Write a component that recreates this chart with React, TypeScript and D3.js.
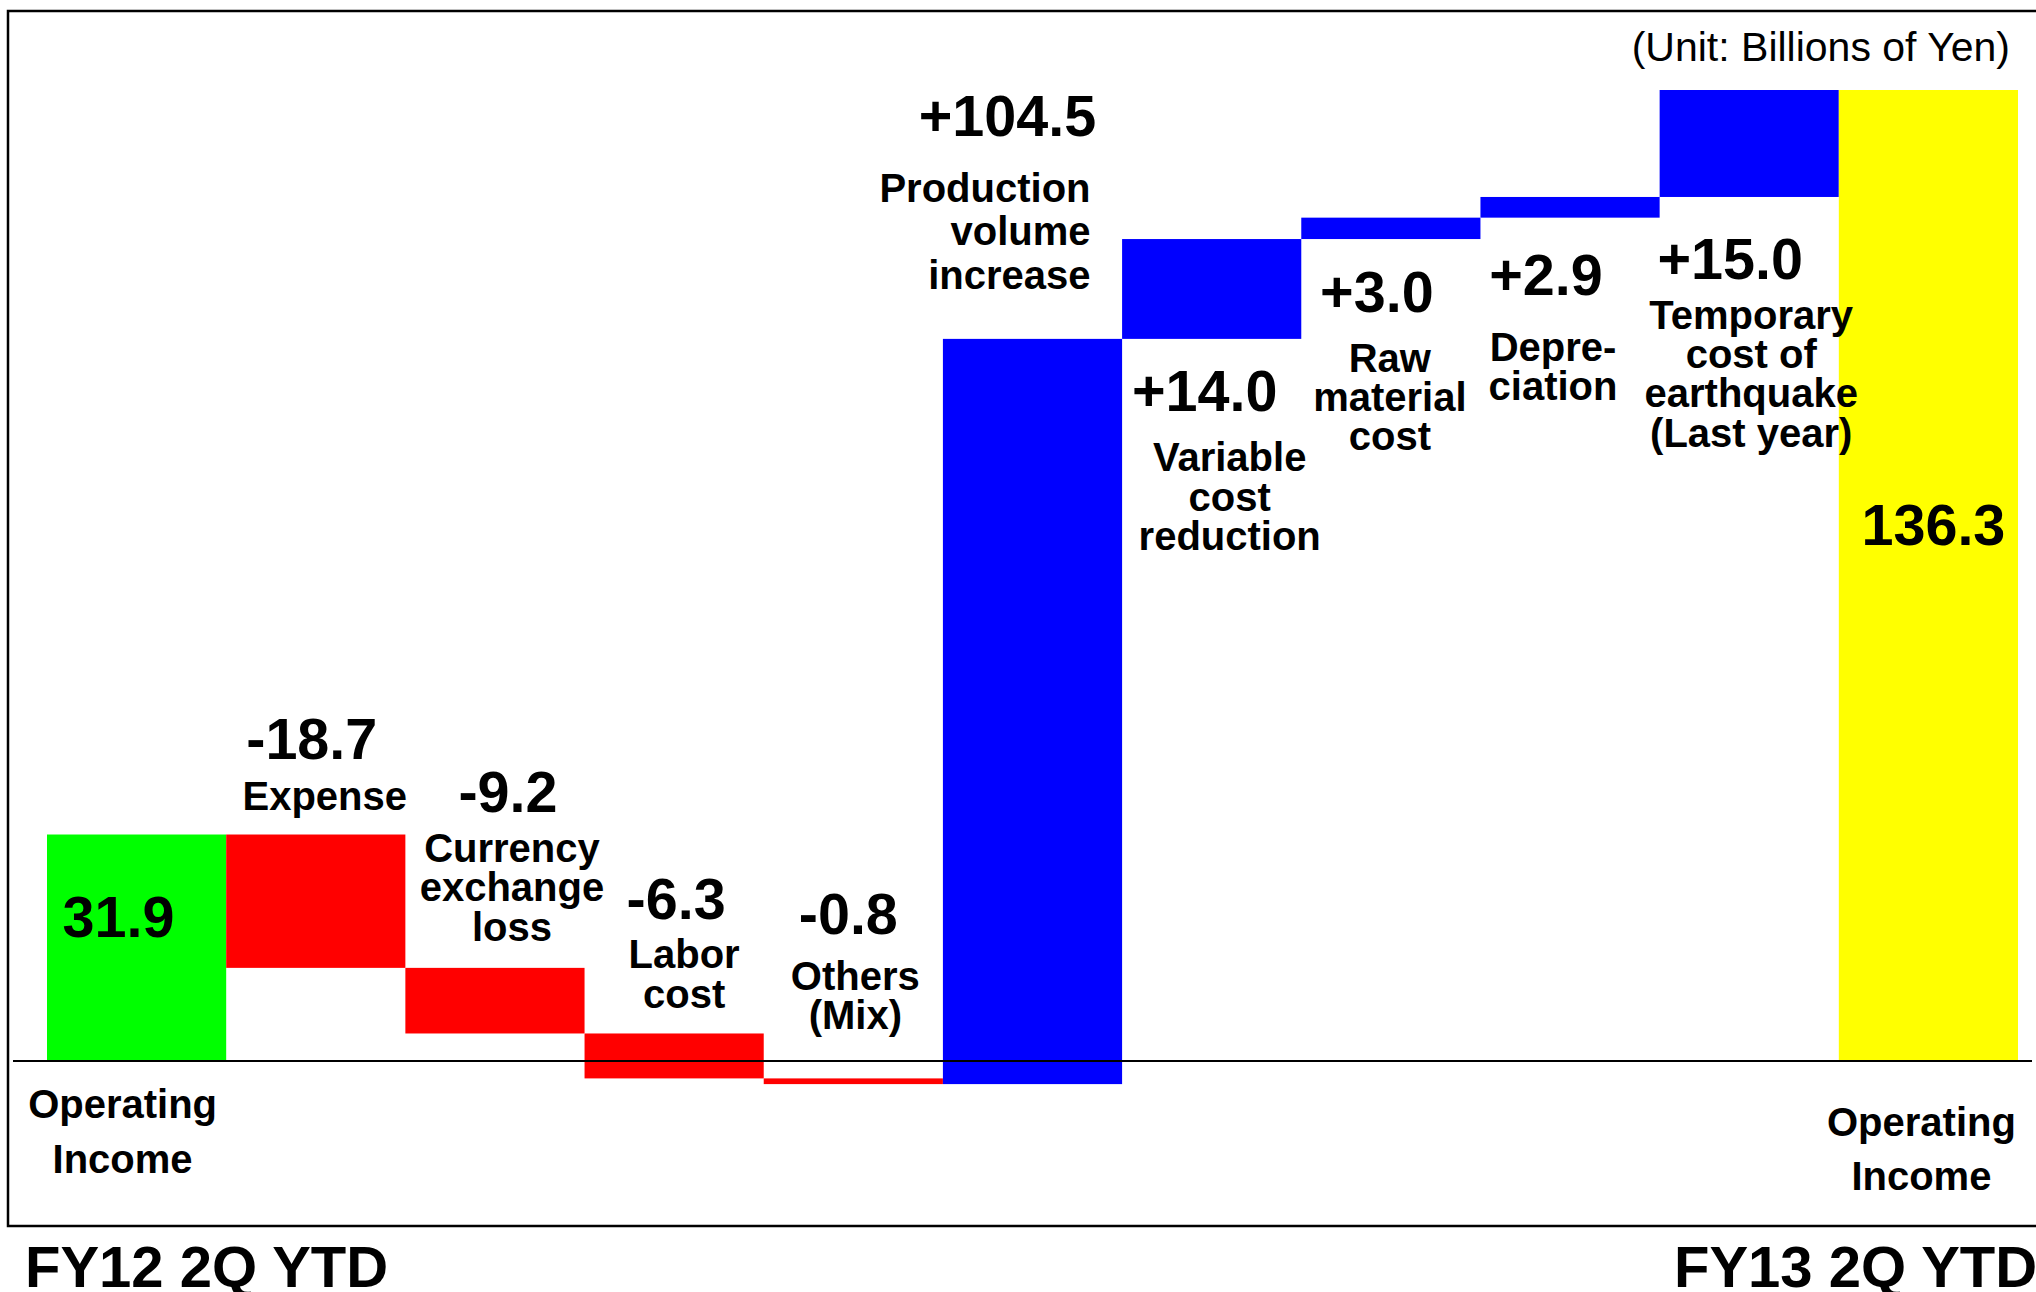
import React from "react";
import * as d3 from "d3";

// Operating income bridge, FY12 2Q YTD -> FY13 2Q YTD (billions of yen)
const categories = [
  "FY12 Operating Income",
  "Expense",
  "Currency exchange loss",
  "Labor cost",
  "Others (Mix)",
  "Production volume increase",
  "Variable cost reduction",
  "Raw material cost",
  "Depreciation",
  "Temporary cost of earthquake (Last year)",
  "FY13 Operating Income",
];
const deltas = [31.9, -18.7, -9.2, -6.3, -0.8, 104.5, 14.0, 3.0, 2.9, 15.0, 136.3];
const kinds = ["total", "neg", "neg", "neg", "neg", "pos", "pos", "pos", "pos", "pos", "total"];
const valueLabels = ["31.9", "-18.7", "-9.2", "-6.3", "-0.8", "+104.5", "+14.0", "+3.0", "+2.9", "+15.0", "136.3"];
const categoryLines = [
  ["Operating", "Income"],
  ["Expense"],
  ["Currency", "exchange", "loss"],
  ["Labor", "cost"],
  ["Others", "(Mix)"],
  ["Production", "volume", "increase"],
  ["Variable", "cost", "reduction"],
  ["Raw", "material", "cost"],
  ["Depre-", "ciation"],
  ["Temporary", "cost of", "earthquake", "(Last year)"],
  ["Operating", "Income"],
];
const periodLabels = ["FY12 2Q YTD", "FY13 2Q YTD"];
const unitLabel = "(Unit: Billions of Yen)";

// label placement relative to each bar (ref = which edge of the bar or the zero line)
const labelLayout = [
  { v: { ref: "top", dx: -74, dy: 102, anchor: "start" }, c: { ref: "zero", dx: -14, dys: [56, 111], anchor: "middle" } },
  { v: { ref: "top", dx: -4, dy: -76, anchor: "middle" }, c: { ref: "top", dx: 9, dys: [-25], anchor: "middle" } },
  { v: { ref: "top", dx: 13, dy: -156, anchor: "middle" }, c: { ref: "top", dx: 17, dys: [-106, -67, -27], anchor: "middle" } },
  { v: { ref: "top", dx: 2, dy: -114, anchor: "middle" }, c: { ref: "top", dx: 10, dys: [-65, -25], anchor: "middle" } },
  { v: { ref: "top", dx: -5, dy: -144, anchor: "middle" }, c: { ref: "top", dx: 2, dys: [-88, -49], anchor: "middle" } },
  { v: { ref: "top", dx: -25, dy: -203, anchor: "middle" }, c: { ref: "top", dx: 58, dys: [-137, -94, -50], anchor: "end" } },
  { v: { ref: "bottom", dx: -7, dy: 72, anchor: "middle" }, c: { ref: "bottom", dx: 18, dys: [132, 172, 211], anchor: "middle" } },
  { v: { ref: "bottom", dx: -14, dy: 73, anchor: "middle" }, c: { ref: "bottom", dx: -1, dys: [133, 172, 211], anchor: "middle" } },
  { v: { ref: "bottom", dx: -24, dy: 77, anchor: "middle" }, c: { ref: "bottom", dx: -17, dys: [143, 182], anchor: "middle" } },
  { v: { ref: "bottom", dx: -19, dy: 82, anchor: "middle" }, c: { ref: "bottom", dx: 2, dys: [132, 171, 210, 250], anchor: "middle" } },
  { v: { ref: "top", dx: 5, dy: 455, anchor: "middle" }, c: { ref: "zero", dx: -7, dys: [74, 128], anchor: "middle" } },
];

const W = 2036;
const H = 1292;
const FONT = "'Liberation Sans', Arial, Helvetica, sans-serif";
const colors: Record<string, string> = { total: "#00ff00", neg: "#ff0000", pos: "#0000ff", final: "#ffff00" };

export default function App() {
  const x = d3.scaleBand<string>().domain(categories).range([47, 2018]).padding(0);
  const y = d3.scaleLinear().domain([0, 136.3]).range([1062, 90]);

  // running totals for the waterfall
  let running = 0;
  const bars = deltas.map((d, i) => {
    let start: number, end: number;
    if (kinds[i] === "total") {
      start = 0;
      end = d;
      running = d;
    } else {
      start = running;
      end = running + d;
      running = end;
    }
    const yTop = y(Math.max(start, end));
    const yBot = y(Math.min(start, end));
    const fill = kinds[i] === "total" ? (i === 0 ? colors.total : colors.final) : colors[kinds[i]];
    return { cat: categories[i], start, end, yTop, yBot, fill, i };
  });

  const refY = (ref: string, b: { yTop: number; yBot: number }) =>
    ref === "top" ? b.yTop : ref === "bottom" ? b.yBot : y(0);

  const bw = x.bandwidth();

  return (
    <svg
      width={W}
      height={H}
      viewBox={`0 0 ${W} ${H}`}
      style={{ position: "absolute", left: 0, top: 0, background: "#fff" }}
      fontFamily={FONT}
    >
      <rect x={0} y={0} width={W} height={H} fill="#fff" />
      {/* frame */}
      <rect x={8} y={11} width={W + 20} height={1215} fill="none" stroke="#000" strokeWidth={2.5} />

      {/* bars */}
      {bars.map((b) => (
        <rect key={b.cat} x={x(b.cat)} y={b.yTop} width={bw} height={Math.max(1, b.yBot - b.yTop)} fill={b.fill} />
      ))}

      {/* zero line */}
      <line x1={13} x2={2032} y1={y(0) - 1} y2={y(0) - 1} stroke="#000" strokeWidth={2} />

      {/* value labels */}
      {bars.map((b) => {
        const L = labelLayout[b.i].v;
        const cx = (x(b.cat) as number) + bw / 2 + L.dx;
        return (
          <text
            key={"v" + b.i}
            x={cx}
            y={refY(L.ref, b) + L.dy}
            textAnchor={L.anchor as any}
            fontSize={57.5}
            fontWeight="bold"
            fill="#000"
          >
            {valueLabels[b.i]}
          </text>
        );
      })}

      {/* category labels */}
      {bars.map((b) => {
        const L = labelLayout[b.i].c;
        const cx = (x(b.cat) as number) + bw / 2 + L.dx;
        const base = refY(L.ref, b);
        return (
          <g key={"c" + b.i}>
            {categoryLines[b.i].map((line, j) => (
              <text
                key={j}
                x={cx}
                y={base + L.dys[j]}
                textAnchor={L.anchor as any}
                fontSize={40}
                fontWeight="bold"
                fill="#000"
              >
                {line}
              </text>
            ))}
          </g>
        );
      })}

      {/* unit note */}
      <text x={2010} y={61} textAnchor="end" fontSize={41} fill="#000">
        {unitLabel}
      </text>

      {/* period captions */}
      <text x={25} y={1287} fontSize={58} fontWeight="bold" fill="#000">
        {periodLabels[0]}
      </text>
      <text x={1674} y={1287} fontSize={58} fontWeight="bold" fill="#000">
        {periodLabels[1]}
      </text>
    </svg>
  );
}
